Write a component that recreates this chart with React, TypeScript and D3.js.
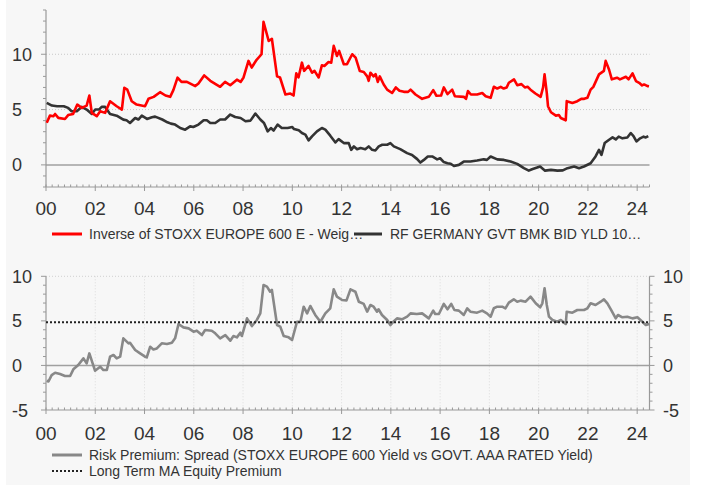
import React from "react";
import * as d3 from "d3";

// years since 2000, value
const earningsYield: [number, number][] = [
  [0.03,3.8],[0.16,4.45],[0.3,4.4],[0.37,4.6],[0.5,4.25],[0.77,4.15],[0.9,4.5],[1.1,4.6],[1.27,5.45],[1.45,5.15],
  [1.65,5.36],[1.76,6.27],[1.86,4.7],[2.06,4.4],[2.2,4.85],[2.4,4.7],[2.6,5.75],[2.87,5.3],[3.08,5.0],[3.18,6.97],
  [3.3,6.8],[3.48,5.75],[3.68,5.45],[4.02,5.3],[4.16,5.97],[4.37,6.15],[4.63,6.57],[4.85,6.27],[5.04,6.15],[5.17,6.76],
  [5.34,7.88],[5.5,7.5],[5.72,7.5],[6.06,7.12],[6.19,7.36],[6.42,8.09],[6.67,7.6],[7.07,7.06],[7.27,7.5],[7.48,7.2],
  [7.75,7.7],[7.9,7.5],[8.02,7.9],[8.22,9.4],[8.35,8.8],[8.55,9.5],[8.75,10.0],[8.83,12.94],[9.04,11.2],[9.17,11.4],
  [9.38,8.0],[9.5,7.9],[9.72,6.36],[9.92,6.45],[10.05,6.27],[10.16,8.27],[10.25,7.9],[10.39,9.24],[10.48,8.5],[10.66,8.94],
  [10.8,8.33],[10.9,8.5],[11.07,7.9],[11.2,9.0],[11.3,8.94],[11.47,9.3],[11.58,9.24],[11.68,10.76],[11.81,9.85],[11.9,10.3],
  [12.09,9.1],[12.22,9.1],[12.43,10.0],[12.57,9.7],[12.74,8.48],[12.9,8.4],[13.04,8.0],[13.1,7.6],[13.17,8.33],[13.3,8.0],
  [13.38,8.2],[13.47,7.5],[13.55,8.0],[13.71,7.27],[13.85,6.8],[14.05,6.5],[14.2,7.0],[14.35,6.7],[14.53,6.6],[14.7,6.6],
  [14.8,6.8],[15.0,6.36],[15.27,5.97],[15.54,6.15],[15.72,6.76],[15.85,6.25],[16.04,6.27],[16.15,7.0],[16.3,6.4],[16.49,6.8],
  [16.6,6.2],[16.96,6.15],[17.05,5.97],[17.13,6.67],[17.25,6.36],[17.5,6.36],[17.71,6.5],[17.85,6.2],[18.05,6.06],[18.18,7.06],
  [18.32,6.9],[18.46,7.05],[18.58,6.9],[18.7,7.0],[18.79,7.42],[19.0,7.73],[19.13,7.2],[19.3,7.3],[19.44,7.0],[19.55,7.06],
  [19.67,6.8],[19.87,6.45],[20.08,6.15],[20.18,7.0],[20.24,8.18],[20.33,6.5],[20.38,5.3],[20.5,4.76],[20.7,4.45],[20.82,4.5],
  [20.9,4.24],[21.1,4.03],[21.14,5.76],[21.37,5.6],[21.57,5.76],[21.73,5.97],[21.85,5.97],[21.98,6.06],[22.11,6.8],[22.22,7.05],
  [22.45,8.18],[22.65,8.5],[22.72,9.4],[22.86,8.6],[22.97,7.73],[23.18,7.88],[23.3,7.73],[23.54,7.97],[23.65,7.73],[23.81,8.27],
  [23.95,7.58],[24.08,7.42],[24.2,7.18],[24.28,7.27],[24.42,7.12],[24.48,7.1]
];

const bundYield: [number, number][] = [
  [0.03,5.6],[0.24,5.36],[0.45,5.3],[0.72,5.3],[0.9,5.15],[1.04,4.85],[1.25,4.85],[1.45,5.24],[1.65,5.0],[1.86,4.6],
  [2.0,5.0],[2.15,5.0],[2.26,5.24],[2.4,5.24],[2.6,4.6],[2.87,4.45],[3.14,4.09],[3.27,4.03],[3.41,3.79],[3.62,4.24],
  [3.75,4.1],[3.89,4.45],[4.1,4.15],[4.3,4.3],[4.43,4.36],[4.72,4.1],[4.93,3.85],[5.07,3.73],[5.24,3.64],[5.45,3.33],
  [5.65,3.18],[5.85,3.48],[5.98,3.42],[6.19,3.64],[6.4,4.03],[6.53,4.03],[6.67,3.79],[6.87,3.79],[7.07,4.1],[7.27,4.1],
  [7.48,4.55],[7.68,4.33],[7.9,4.24],[8.1,3.94],[8.3,4.0],[8.5,4.64],[8.7,4.1],[8.85,3.79],[9.0,3.03],[9.13,3.33],
  [9.24,3.1],[9.4,3.64],[9.57,3.33],[9.81,3.33],[10.0,3.42],[10.07,3.24],[10.26,3.12],[10.39,2.88],[10.53,2.73],[10.66,2.21],
  [10.8,2.58],[11.0,3.03],[11.2,3.33],[11.34,3.18],[11.54,2.64],[11.75,2.03],[11.88,2.33],[12.09,1.97],[12.29,1.97],[12.39,1.36],
  [12.5,1.67],[12.63,1.42],[12.77,1.52],[12.96,1.42],[13.1,1.67],[13.24,1.36],[13.37,1.3],[13.51,1.67],[13.65,1.82],[13.85,1.82],
  [13.98,1.97],[14.12,1.67],[14.38,1.42],[14.66,1.06],[14.86,0.9],[15.07,0.52],[15.2,0.21],[15.34,0.45],[15.5,0.76],[15.68,0.76],
  [15.88,0.5],[16.0,0.6],[16.15,0.25],[16.3,0.15],[16.43,0.1],[16.56,-0.1],[16.76,0.0],[16.96,0.3],[17.23,0.3],[17.5,0.39],
  [17.77,0.5],[17.9,0.45],[18.05,0.76],[18.32,0.5],[18.59,0.45],[18.86,0.3],[19.13,0.09],[19.4,-0.3],[19.6,-0.52],[19.73,-0.4],
  [20.06,-0.15],[20.26,-0.52],[20.5,-0.45],[20.76,-0.52],[20.98,-0.5],[21.17,-0.3],[21.44,-0.15],[21.64,-0.3],[21.84,-0.15],[22.11,0.15],
  [22.31,0.76],[22.45,1.36],[22.55,0.9],[22.68,1.97],[22.86,2.27],[23.0,2.48],[23.13,2.3],[23.25,2.55],[23.4,2.4],[23.6,2.48],
  [23.74,2.88],[23.85,2.6],[23.97,2.12],[24.12,2.4],[24.26,2.55],[24.35,2.48],[24.45,2.6]
];

const riskPremium: [number, number][] = [
  [0.03,-1.72],[0.1,-1.8],[0.23,-1.08],[0.37,-0.82],[0.57,-0.97],[0.77,-1.18],[0.98,-1.18],[1.11,-0.44],[1.31,0.04],[1.52,0.79],
  [1.65,0.23],[1.76,1.35],[1.99,-0.59],[2.2,-0.14],[2.33,-0.52],[2.47,-0.52],[2.6,0.98],[2.74,1.17],[2.87,0.79],[3.01,0.98],
  [3.14,3.04],[3.35,2.48],[3.41,2.55],[3.62,1.73],[3.82,1.35],[4.02,0.98],[4.09,0.9],[4.23,2.1],[4.36,1.8],[4.5,1.91],
  [4.7,2.48],[4.91,2.4],[5.11,2.55],[5.24,3.04],[5.38,4.65],[5.58,4.27],[5.79,4.16],[5.99,3.79],[6.12,3.9],[6.33,3.41],
  [6.46,3.97],[6.73,3.9],[6.87,3.6],[7.07,3.04],[7.28,3.41],[7.48,2.78],[7.61,3.3],[7.75,3.15],[7.89,3.67],[7.95,3.3],
  [8.16,5.28],[8.36,4.42],[8.56,5.1],[8.7,5.84],[8.83,9.02],[8.97,8.84],[9.1,8.27],[9.17,8.47],[9.38,4.53],[9.51,4.35],
  [9.65,3.3],[9.85,3.15],[9.99,2.85],[10.19,4.9],[10.33,4.9],[10.46,6.59],[10.6,5.84],[10.73,6.67],[10.93,5.66],[11.14,4.9],
  [11.34,5.84],[11.54,6.41],[11.68,8.54],[11.81,7.72],[12.02,7.34],[12.2,7.3],[12.36,8.54],[12.56,8.27],[12.7,7.15],[12.9,6.9],
  [13.04,6.03],[13.17,6.78],[13.3,6.59],[13.44,6.03],[13.5,6.3],[13.64,5.66],[13.85,5.1],[13.98,4.53],[14.1,4.9],[14.25,5.28],
  [14.45,5.17],[14.66,5.47],[14.8,5.84],[15.05,5.77],[15.27,5.84],[15.54,5.28],[15.72,6.15],[15.8,5.77],[15.95,5.77],[16.15,6.9],
  [16.3,6.3],[16.45,6.9],[16.58,6.22],[16.76,6.15],[16.96,5.66],[17.1,6.41],[17.23,6.03],[17.5,5.92],[17.71,6.15],[17.9,5.84],
  [18.05,5.47],[18.18,6.41],[18.32,6.59],[18.52,6.59],[18.65,6.41],[18.79,7.05],[18.99,7.42],[19.13,7.15],[19.27,7.27],[19.47,7.15],
  [19.67,7.72],[19.88,6.97],[20.06,6.52],[20.15,6.97],[20.24,8.66],[20.33,6.78],[20.42,5.47],[20.56,5.1],[20.76,4.9],[20.9,5.1],
  [21.1,4.65],[21.14,6.03],[21.37,5.92],[21.57,6.22],[21.84,6.22],[21.98,6.41],[22.11,6.97],[22.31,6.78],[22.52,7.15],[22.65,7.42],
  [22.79,6.97],[22.93,6.3],[23.13,5.28],[23.22,5.66],[23.4,5.4],[23.6,5.47],[23.81,5.28],[24.01,5.4],[24.21,4.9],[24.35,4.53],
  [24.49,4.65]
];

const longTermPremium = 4.85;

const xTickYears = [0, 2, 4, 6, 8, 10, 12, 14, 16, 18, 20, 22, 24];
const xTickLabels = ["00", "02", "04", "06", "08", "10", "12", "14", "16", "18", "20", "22", "24"];
const topYTicks = [0, 5, 10];
const bottomYTicks = [-5, 0, 5, 10];

const topLegend = ["Inverse of STOXX EUROPE 600 E - Weig\u2026", "RF GERMANY GVT BMK BID YLD 10\u2026"];
const bottomLegend = ["Risk Premium: Spread (STOXX EUROPE 600 Yield vs GOVT. AAA RATED Yield)", "Long Term MA Equity Premium"];

const FONT = "'Liberation Sans', Arial, Helvetica, sans-serif";

export default function App() {
  const x = d3.scaleLinear().domain([0, 24.5]).range([46, 649.5]);
  const yTop = d3.scaleLinear().domain([-2, 14]).range([187, 10]);
  const yBot = d3.scaleLinear().domain([-5, 10]).range([410, 276.3]);

  const lineTop = d3.line<[number, number]>().x(d => x(d[0])).y(d => yTop(d[1]));
  const lineBot = d3.line<[number, number]>().x(d => x(d[0])).y(d => yBot(d[1]));

  const quarters = d3.range(0, 24.51, 0.25);
  const topMinor = d3.range(-2, 14.01, 1);
  const botMinor = d3.range(-5, 10.01, 1);
  const axisColor = "#999";
  const textColor = "#333";
  const xL = x(0), xR = x(24.5);

  return (
    <svg width={701} height={485} style={{ position: "absolute", left: 0, top: 0 }} fontFamily={FONT}>
      <rect x={0} y={0} width={701} height={485} fill="#ffffff" />
      <rect x={6} y={0} width={684} height={485} fill="#f7f7f7" />

      {/* ---------- TOP CHART ---------- */}
      {[5, 10].map(v => (
        <line key={"tg" + v} x1={xL} x2={xR} y1={yTop(v)} y2={yTop(v)} stroke="#c8c8c8" strokeWidth={1} strokeDasharray="1,2" />
      ))}
      <line x1={xL} x2={xR} y1={yTop(0)} y2={yTop(0)} stroke="#a0a0a0" strokeWidth={1.5} />
      {/* y axis */}
      <line x1={xL} x2={xL} y1={yTop(14)} y2={yTop(-2)} stroke={axisColor} strokeWidth={1.2} />
      {topMinor.map(v => (
        <line key={"tym" + v} x1={xL - (topYTicks.includes(v) ? 5 : 3)} x2={xL} y1={yTop(v)} y2={yTop(v)} stroke={axisColor} strokeWidth={1} />
      ))}
      {topYTicks.map(v => (
        <text key={"tyl" + v} x={12} y={yTop(v) + 6.5} fontSize={18} fill={textColor}>{v}</text>
      ))}
      {/* x axis */}
      <line x1={xL} x2={xR} y1={yTop(-2)} y2={yTop(-2)} stroke={axisColor} strokeWidth={1.2} />
      {quarters.map(q => (
        <line key={"txq" + q} x1={x(q)} x2={x(q)} y1={yTop(-2) - 2.5} y2={yTop(-2)} stroke={axisColor} strokeWidth={1} />
      ))}
      {xTickYears.map((t, i) => (
        <g key={"txl" + t}>
          <line x1={x(t)} x2={x(t)} y1={yTop(-2)} y2={yTop(-2) + 4} stroke={axisColor} strokeWidth={1} />
          <text x={x(t)} y={215} fontSize={19} fill={textColor} textAnchor="middle">{xTickLabels[i]}</text>
        </g>
      ))}
      <path d={lineTop(bundYield) || ""} fill="none" stroke="#333333" strokeWidth={2.6} strokeLinejoin="round" />
      <path d={lineTop(earningsYield) || ""} fill="none" stroke="#ff0000" strokeWidth={2.6} strokeLinejoin="round" />

      {/* top legend */}
      <line x1={52} x2={82} y1={234} y2={234} stroke="#ff0000" strokeWidth={3} />
      <text x={89} y={239} fontSize={14} fill={textColor}>{topLegend[0]}</text>
      <line x1={354} x2={382} y1={234} y2={234} stroke="#333333" strokeWidth={3} />
      <text x={390} y={239} fontSize={14} fill={textColor}>{topLegend[1]}</text>

      {/* ---------- BOTTOM CHART ---------- */}
      {xTickYears.filter(t => t > 0).map(t => (
        <line key={"bvg" + t} x1={x(t)} x2={x(t)} y1={yBot(10)} y2={yBot(-5)} stroke="#dcdcdc" strokeWidth={1} strokeDasharray="1,2" />
      ))}
      <line x1={xL} x2={xR} y1={yBot(10)} y2={yBot(10)} stroke="#d0d0d0" strokeWidth={1} strokeDasharray="1,2" />
      <line x1={xL} x2={xR} y1={yBot(0)} y2={yBot(0)} stroke="#a0a0a0" strokeWidth={1.5} />
      {/* left y axis */}
      <line x1={xL} x2={xL} y1={yBot(10)} y2={yBot(-5)} stroke={axisColor} strokeWidth={1.2} />
      {botMinor.map(v => (
        <line key={"bym" + v} x1={xL - (bottomYTicks.includes(v) ? 5 : 3)} x2={xL} y1={yBot(v)} y2={yBot(v)} stroke={axisColor} strokeWidth={1} />
      ))}
      {bottomYTicks.map(v => (
        <text key={"byl" + v} x={12} y={yBot(v) + 6.5} fontSize={18} fill={textColor}>{v}</text>
      ))}
      {/* right y axis */}
      <line x1={xR} x2={xR} y1={yBot(10)} y2={yBot(-5)} stroke={axisColor} strokeWidth={1.2} />
      {botMinor.map(v => (
        <line key={"brm" + v} x1={xR} x2={xR + (bottomYTicks.includes(v) ? 5 : 3)} y1={yBot(v)} y2={yBot(v)} stroke={axisColor} strokeWidth={1} />
      ))}
      {bottomYTicks.map(v => (
        <text key={"brl" + v} x={663} y={yBot(v) + 6.5} fontSize={18} fill={textColor}>{v}</text>
      ))}
      {/* x axis */}
      <line x1={xL} x2={xR} y1={yBot(-5)} y2={yBot(-5)} stroke={axisColor} strokeWidth={1.2} />
      {quarters.map(q => (
        <line key={"bxq" + q} x1={x(q)} x2={x(q)} y1={yBot(-5) - 2.5} y2={yBot(-5)} stroke={axisColor} strokeWidth={1} />
      ))}
      {xTickYears.map((t, i) => (
        <g key={"bxl" + t}>
          <line x1={x(t)} x2={x(t)} y1={yBot(-5)} y2={yBot(-5) + 4} stroke={axisColor} strokeWidth={1} />
          <text x={x(t)} y={440} fontSize={19} fill={textColor} textAnchor="middle">{xTickLabels[i]}</text>
        </g>
      ))}
      <path d={lineBot(riskPremium) || ""} fill="none" stroke="#888888" strokeWidth={2.6} strokeLinejoin="round" />
      <line x1={xL} x2={xR} y1={yBot(longTermPremium)} y2={yBot(longTermPremium)} stroke="#222222" strokeWidth={2} strokeDasharray="2,2" />

      {/* bottom legend */}
      <line x1={52} x2={82} y1={455} y2={455} stroke="#888888" strokeWidth={3} />
      <text x={89} y={460} fontSize={14} fill={textColor}>{bottomLegend[0]}</text>
      <line x1={52} x2={82} y1={471} y2={471} stroke="#222222" strokeWidth={2} strokeDasharray="2,2" />
      <text x={89} y={476} fontSize={14} fill={textColor}>{bottomLegend[1]}</text>
    </svg>
  );
}
